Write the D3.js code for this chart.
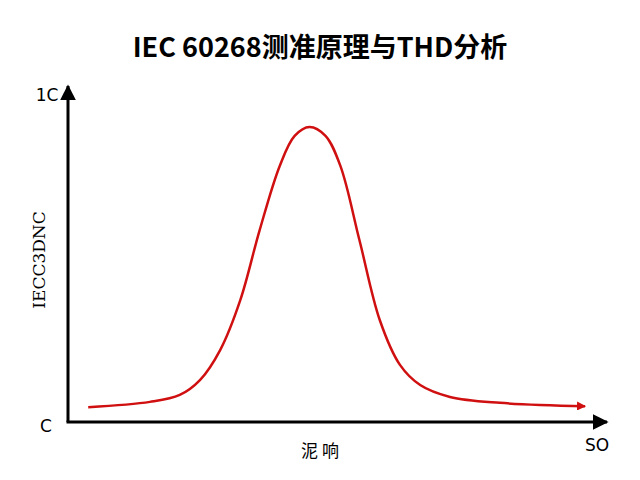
<!DOCTYPE html>
<html>
<head>
<meta charset="utf-8">
<script src="https://cdn.jsdelivr.net/npm/d3@7"></script>
<style>body{margin:0;background:#fff}</style>
</head>
<body>
<div id="chart"></div>
<script>
const xs = [1.9, 7.7, 10.5, 12.4, 14.3, 16.2, 18.0, 19.9, 21.3, 22.7, 24.2, 25.6, 27.4, 29.3, 31.2, 33.1, 35.9, 40.6, 48.6];
const ys = [0.45, 0.61, 0.82, 1.27, 2.18, 3.7, 5.8, 7.76, 8.67, 8.94, 8.67, 7.76, 5.5, 3.09, 1.73, 1.12, 0.76, 0.58, 0.48];
const yTicks = ["C", "1C"];
const xTickLabel = "SO";

const width = 640, height = 480;
const svg = d3.select("#chart").append("svg")
    .attr("width", width).attr("height", height);

const x = d3.scaleLinear().domain([0, 50]).range([68, 600]);
const y = d3.scaleLinear().domain([0, 10]).range([422, 92]);

const defs = svg.append("defs");
function marker(id, color, size) {
    defs.append("marker").attr("id", id)
        .attr("viewBox", "0 0 10 10").attr("refX", 9).attr("refY", 5)
        .attr("markerWidth", size).attr("markerHeight", size)
        .attr("markerUnits", "userSpaceOnUse").attr("orient", "auto")
        .append("path").attr("d", "M0,0L10,5L0,10z").attr("fill", color);
}
marker("ak", "#000", 16);
marker("ar", "#d01010", 9);

svg.append("text").attr("x", 320).attr("y", 57).attr("text-anchor", "middle")
    .style("font-family", "'Noto Sans CJK SC', sans-serif").style("font-weight", "bold")
    .style("font-size", "27px").text("IEC 60268测准原理与THD分析");

// axes
svg.append("line").attr("x1", x(0)).attr("y1", y(0)).attr("x2", x(0)).attr("y2", 86)
    .attr("stroke", "#000").attr("stroke-width", 3).attr("marker-end", "url(#ak)");
svg.append("line").attr("x1", x(0) - 1.5).attr("y1", y(0)).attr("x2", 607).attr("y2", y(0))
    .attr("stroke", "#000").attr("stroke-width", 3).attr("marker-end", "url(#ak)");

const font = "'DejaVu Sans', sans-serif";
svg.append("text").attr("x", 46).attr("y", 432).attr("text-anchor", "middle")
    .style("font-family", font).style("font-size", "17px").text(yTicks[0]);
svg.append("text").attr("x", 47).attr("y", 101).attr("text-anchor", "middle")
    .style("font-family", font).style("font-size", "17px").text(yTicks[1]);
svg.append("text").attr("x", 597).attr("y", 451).attr("text-anchor", "middle")
    .style("font-family", font).style("font-size", "17px").text(xTickLabel);
svg.append("text").attr("x", 320).attr("y", 457).attr("text-anchor", "middle")
    .style("font-family", "'Noto Sans CJK SC', sans-serif").style("font-size", "17px").text("阸 响".replace("阸","泥"));
svg.append("text").attr("transform", "translate(45,260) rotate(-90)").attr("text-anchor", "middle")
    .style("font-family", "'DejaVu Serif', serif").style("font-size", "17px").text("IECC3DNC");

const line = d3.line().x((d, i) => x(xs[i])).y(d => y(d)).curve(d3.curveCatmullRom);
svg.append("path").datum(ys).attr("d", line)
    .attr("fill", "none").attr("stroke", "#d01010").attr("stroke-width", 2.5)
    .attr("marker-end", "url(#ar)");
</script>
</body>
</html>
